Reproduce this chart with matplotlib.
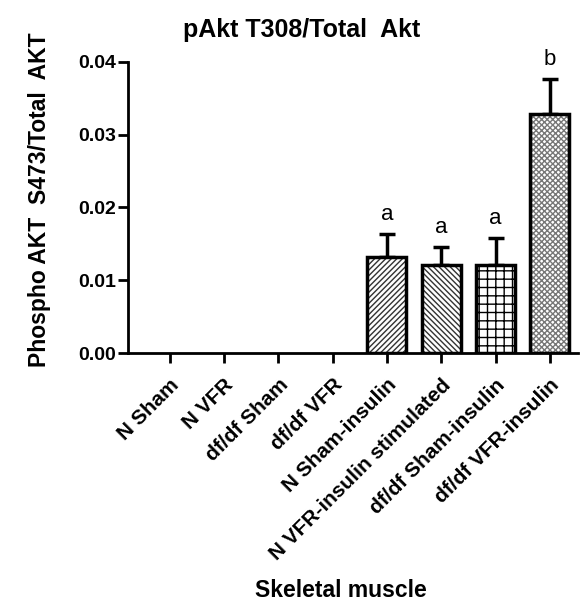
import matplotlib.pyplot as plt
import numpy as np

plt.rcParams['font.family'] = ['Liberation Sans', 'DejaVu Sans']
plt.rcParams['font.weight'] = 'bold'
plt.rcParams['hatch.linewidth'] = 1.0

groups = ['N Sham', 'N VFR', 'df/df Sham', 'df/df VFR', 'N Sham-insulin',
          'N VFR-insulin stimulated', 'df/df Sham-insulin', 'df/df VFR-insulin']
values = [0, 0, 0, 0, 0.0132, 0.0121, 0.0121, 0.0329]
errors = [0, 0, 0, 0, 0.0032, 0.0025, 0.0037, 0.0048]
letters = ['', '', '', '', 'a', 'a', 'a', 'b']
hatches = [None, None, None, None, '//////', '\\\\\\\\\\\\', '++', 'xxxxxx']
hatch_colors = ['k', 'k', 'k', 'k', '#333333', '#333333', 'k', '#777777']

fig = plt.figure(figsize=(5.81, 6.12), dpi=100)
ax = fig.add_axes([0.220, 0.423, 0.775, 0.476])

x = np.arange(len(groups))
for i in range(len(groups)):
    if values[i] <= 0:
        continue
    ax.bar(x[i], values[i], width=0.72, color='white', edgecolor=hatch_colors[i],
           hatch=hatches[i], linewidth=0, zorder=2)
    ax.bar(x[i], values[i], width=0.72, color='none', edgecolor='black',
           linewidth=2.5, zorder=3)
    ax.errorbar(x[i], values[i] + errors[i] / 2, yerr=errors[i] / 2, fmt='none',
                ecolor='black', elinewidth=2.5, capsize=6, capthick=2.5, zorder=1)
    ax.text(x[i], values[i] + errors[i] + 0.0012, letters[i], ha='center', va='bottom',
            fontsize=16, fontweight='normal')

ax.set_xlim(-0.77, 7.52)
ax.set_ylim(0, 0.04)
ax.set_yticks([0, 0.01, 0.02, 0.03, 0.04])
ax.set_yticklabels(['0.00', '0.01', '0.02', '0.03', '0.04'], fontsize=14, fontweight='bold')
ax.set_xticks(x)
ax.set_xticklabels(groups, rotation=45, ha='right', rotation_mode='anchor',
                   fontsize=15, fontweight='bold')
ax.tick_params(axis='both', width=2, length=7, direction='out')
ax.tick_params(axis='y', pad=1.5)
ax.tick_params(axis='x', pad=9)
for s in ['top', 'right']:
    ax.spines[s].set_visible(False)
for s in ['left', 'bottom']:
    ax.spines[s].set_linewidth(2)

fig.text(0.52, 0.951, 'pAkt T308/Total  Akt', fontsize=18, fontweight='bold',
         ha='center', va='center')
ax.set_ylabel('Phospho AKT  S473/Total  AKT', fontsize=16.5, fontweight='bold', va='center')
ax.yaxis.set_label_coords(-0.196, 0.525)
ax.set_xlabel('Skeletal muscle', fontsize=16.5, fontweight='bold', va='center')
ax.xaxis.set_label_coords(0.473, -0.814)

fig.savefig('out.png', dpi=100)
